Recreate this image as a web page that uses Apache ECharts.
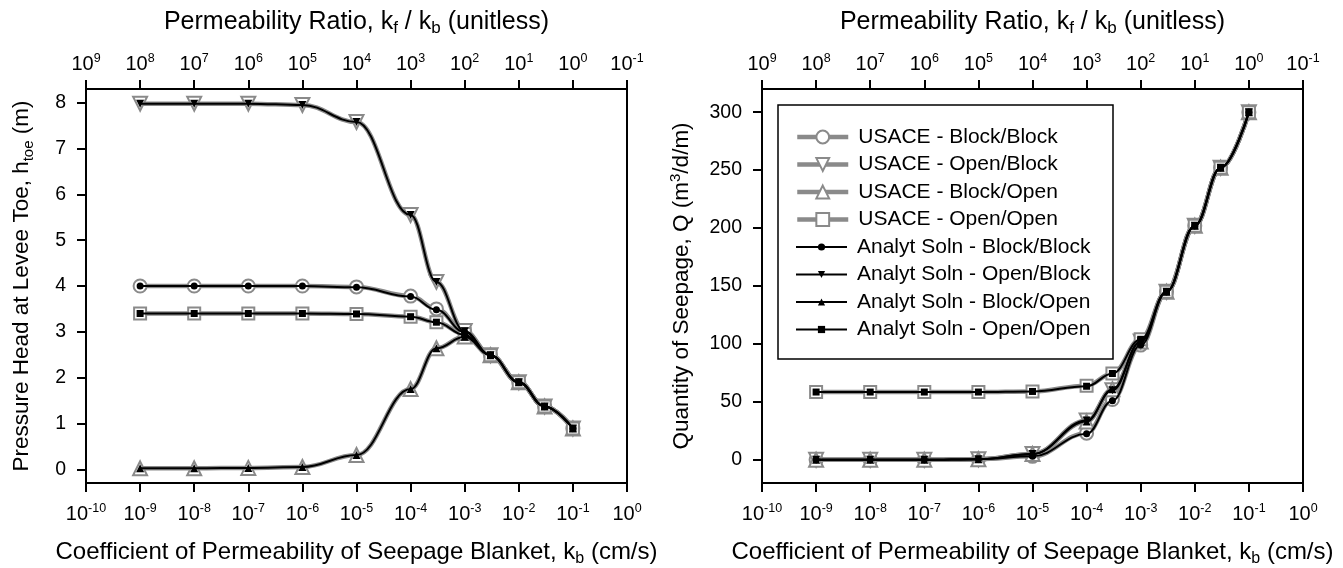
<!DOCTYPE html>
<html>
<head>
<meta charset="utf-8">
<script src="https://cdn.jsdelivr.net/npm/echarts@6/dist/echarts.min.js"></script>
<style>
html,body{margin:0;padding:0;background:#fff;}
#chart{width:1343px;height:568px;}
</style>
</head>
<body>
<div id="chart"></div>
<script>
// ---- data ----
const kb = [1e-9, 1e-8, 1e-7, 1e-6, 1e-5, 1e-4, 3e-4, 1e-3, 3e-3, 1e-2, 3e-2, 1e-1];
const seriesNames = [
  'USACE - Block/Block', 'USACE - Open/Block', 'USACE - Block/Open', 'USACE - Open/Open',
  'Analyt Soln - Block/Block', 'Analyt Soln - Open/Block', 'Analyt Soln - Block/Open', 'Analyt Soln - Open/Open'
];
// Pressure head at levee toe (m)
const headUsaceBB = [4.00, 4.00, 4.00, 4.00, 3.98, 3.78, 3.50, 3.00, 2.49, 1.90, 1.37, 0.89];
const headUsaceOB = [7.98, 7.98, 7.98, 7.95, 7.58, 5.55, 4.09, 3.02, 2.49, 1.90, 1.37, 0.89];
const headUsaceBO = [0.02, 0.02, 0.03, 0.05, 0.31, 1.75, 2.64, 2.90, 2.49, 1.90, 1.37, 0.89];
const headUsaceOO = [3.40, 3.40, 3.40, 3.40, 3.39, 3.33, 3.21, 2.95, 2.49, 1.90, 1.37, 0.89];
const headAnBB = [4.00, 4.00, 4.00, 4.00, 3.97, 3.77, 3.48, 2.99, 2.49, 1.90, 1.37, 0.89];
const headAnOB = [7.98, 7.98, 7.98, 7.95, 7.58, 5.55, 4.09, 3.01, 2.49, 1.90, 1.37, 0.89];
const headAnBO = [0.02, 0.02, 0.03, 0.05, 0.31, 1.75, 2.64, 2.89, 2.49, 1.90, 1.37, 0.89];
const headAnOO = [3.40, 3.40, 3.40, 3.40, 3.39, 3.33, 3.21, 2.93, 2.49, 1.90, 1.37, 0.89];
// Quantity of seepage (m3/d/m)
const qUsaceBB = [0, 0, 0, 0.5, 3, 23, 52, 99, 145, 202, 252, 300];
const qUsaceOB = [0, 0, 0, 0.5, 5, 34, 60, 102, 145, 202, 252, 300];
const qUsaceBO = [0, 0, 0, 0.5, 5, 33, 61, 102, 145, 202, 252, 300];
const qUsaceOO = [58.5, 58.5, 58.5, 58.5, 59, 64, 74.5, 104, 145, 202, 252, 300];
const qAnBB = [0, 0, 0, 0.5, 3, 22.5, 51, 99, 145, 202, 252, 300];
const qAnOB = [0, 0, 0, 0.5, 5, 34, 60, 102, 145, 202, 252, 300];
const qAnBO = [0, 0, 0, 0.5, 5, 33, 61, 102, 145, 202, 252, 300];
const qAnOO = [58.5, 58.5, 58.5, 58.5, 59, 63.5, 74.5, 104, 145, 202, 252, 300];
// tick labels (decade exponents and linear ticks)
const kbExpRange = [-10, 0];      // bottom axis: 10^-10 .. 10^0 cm/s
const ratioExpRange = [-1, 9];    // top axis: k_f/k_b 10^-1 .. 10^9
const headTicks = [0, 1, 2, 3, 4, 5, 6, 7, 8];
const qTicks = [0, 50, 100, 150, 200, 250, 300];

// ---- chart ----
const FONT = 'Liberation Sans';
const GRAY = '#8a8a8a';
const chart = echarts.init(document.getElementById('chart'));

function powRich() {
  return {
    big: {fontSize: 20, lineHeight: 24, verticalAlign: 'middle', fontFamily: FONT, color: '#000'},
    s: {fontSize: 12.5, lineHeight: 19, verticalAlign: 'top', fontFamily: FONT, color: '#000'}
  };
}
function powLabel(v) {
  return '{big|10}{s|' + Math.round(v) + '}';
}
function titleRich(fs) {
  return {
    n: {fontSize: fs, lineHeight: fs + 5, verticalAlign: 'middle', fontFamily: FONT, color: '#000'},
    sub: {fontSize: Math.round(fs * 0.66), lineHeight: Math.round(fs * 0.66), verticalAlign: 'bottom', fontFamily: FONT, color: '#000'},
    sup: {fontSize: Math.round(fs * 0.66), lineHeight: Math.round(fs * 0.66), verticalAlign: 'top', fontFamily: FONT, color: '#000'}
  };
}
function axLine() { return {show: true, onZero: false, lineStyle: {color: '#000', width: 2}}; }

// x axes are drawn in decade (log10) space of k_b
function xBottom(grid) {
  return {
    type: 'value', gridIndex: grid, position: 'bottom',
    min: kbExpRange[0], max: kbExpRange[1], interval: 1,
    axisLine: axLine(),
    axisTick: {show: true, inside: false, length: 9, lineStyle: {color: '#000', width: 2}},
    splitLine: {show: false},
    axisLabel: {margin: 19, fontSize: 20, color: '#000', formatter: powLabel, rich: powRich()}
  };
}
function xTop(grid) {
  return {
    type: 'value', gridIndex: grid, position: 'top', inverse: true,
    min: ratioExpRange[0], max: ratioExpRange[1], interval: 1,
    axisLine: axLine(),
    axisTick: {show: true, inside: false, length: 9, lineStyle: {color: '#000', width: 2}},
    splitLine: {show: false},
    axisLabel: {margin: 13, fontSize: 20, color: '#000', formatter: powLabel, rich: powRich()}
  };
}
function yAxis(grid, min, max, ticks, name, gap) {
  return {
    type: 'value', gridIndex: grid, min: min, max: max,
    name: name, nameLocation: 'middle', nameGap: gap, nameRotate: 90,
    nameTextStyle: {fontSize: 22.5, fontFamily: FONT, rich: titleRich(22.5)},
    axisLine: axLine(),
    axisTick: {show: true, inside: false, length: 9, lineStyle: {color: '#000', width: 2}, customValues: ticks},
    splitLine: {show: false},
    axisLabel: {margin: 20, fontSize: 19.5, fontFamily: FONT, color: '#000', customValues: ticks}
  };
}

const usaceSym = [
  {symbol: 'circle', size: 13, rot: 0},
  {symbol: 'triangle', size: 14, rot: 180},
  {symbol: 'triangle', size: 14, rot: 0},
  {symbol: 'rect', size: 12, rot: 0}
];
const anSym = [
  {symbol: 'circle', size: 7, rot: 0},
  {symbol: 'triangle', size: 8, rot: 180},
  {symbol: 'triangle', size: 8, rot: 0},
  {symbol: 'rect', size: 7, rot: 0}
];
function pts(xs, ys) { return xs.map((x, i) => [Math.log10(x), ys[i]]); }
function usace(i, xIdx, yIdx, ys) {
  const s = usaceSym[i];
  return {
    name: seriesNames[i], type: 'line', xAxisIndex: xIdx, yAxisIndex: yIdx,
    data: pts(kb, ys), smooth: 0.4, smoothMonotone: 'x',
    symbol: s.symbol, symbolSize: s.size, symbolRotate: s.rot,
    lineStyle: {color: GRAY, width: 4.5},
    itemStyle: {color: '#fff', borderColor: GRAY, borderWidth: 2},
    emphasis: {disabled: true}, z: 2
  };
}
function analyt(i, xIdx, yIdx, ys) {
  const s = anSym[i];
  return {
    name: seriesNames[4 + i], type: 'line', xAxisIndex: xIdx, yAxisIndex: yIdx,
    data: pts(kb, ys), smooth: 0.4, smoothMonotone: 'x',
    symbol: s.symbol, symbolSize: s.size, symbolRotate: s.rot,
    lineStyle: {color: '#000', width: 2},
    itemStyle: {color: '#000', borderWidth: 0},
    emphasis: {disabled: true}, z: 3
  };
}

function legendText() { return {fontSize: 21, lineHeight: 24, fontFamily: FONT, color: '#000', padding: [0, 0, 0, 5]}; }

function titleText(x, y, text, fs) {
  return {
    type: 'text', x: x, y: y, z: 5, silent: true,
    style: {text: text, align: 'center', verticalAlign: 'middle', fontSize: fs, fontFamily: FONT, fill: '#000', rich: titleRich(fs)}
  };
}
const bottomTitle = '{n|Coefficient of Permeability of Seepage Blanket, k}{sub|b}{n| (cm/s)}';
const topTitle = '{n|Permeability Ratio, k}{sub|f}{n| / k}{sub|b}{n| (unitless)}';

const option = {
  animation: false,
  backgroundColor: '#fff',
  grid: [
    {left: 86, right: 716, top: 89, bottom: 85, show: true, borderColor: '#000', borderWidth: 2, backgroundColor: 'transparent'},
    {left: 762, right: 40, top: 89, bottom: 85, show: true, borderColor: '#000', borderWidth: 2, backgroundColor: 'transparent'}
  ],
  xAxis: [xBottom(0), xTop(0), xBottom(1), xTop(1)],
  yAxis: [
    yAxis(0, -0.3, 8.3, headTicks, '{n|Pressure Head at Levee Toe, h}{sub|toe}{n| (m)}', 50),
    yAxis(1, -20, 320, qTicks, '{n|Quantity of Seepage, Q (m}{sup|3}{n|/d/m)}', 66)
  ],
  legend: [
    {
      data: seriesNames.slice(0, 4), orient: 'vertical', left: 795, top: 125, padding: 0,
      itemWidth: 51, itemHeight: 16, itemGap: 3.5, selectedMode: false,
      lineStyle: {width: 4.5, color: GRAY},
      textStyle: legendText()
    },
    {
      data: seriesNames.slice(4), orient: 'vertical', left: 795, top: 235, padding: 0,
      itemWidth: 51, itemHeight: 9, itemGap: 3.5, selectedMode: false,
      lineStyle: {width: 2, color: '#000'},
      textStyle: legendText()
    }
  ],
  graphic: [
    {type: 'rect', z: 3, shape: {x: 778, y: 105, width: 335, height: 254},
     style: {fill: '#fff', stroke: '#000', lineWidth: 1.5}},
    titleText(356.5, 22, topTitle, 25),
    titleText(1032.5, 22, topTitle, 25),
    titleText(356.5, 552, bottomTitle, 24),
    titleText(1032.5, 552, bottomTitle, 24)
  ],
  series: [
    usace(0, 0, 0, headUsaceBB), usace(1, 0, 0, headUsaceOB), usace(2, 0, 0, headUsaceBO), usace(3, 0, 0, headUsaceOO),
    analyt(0, 0, 0, headAnBB), analyt(1, 0, 0, headAnOB), analyt(2, 0, 0, headAnBO), analyt(3, 0, 0, headAnOO),
    usace(0, 2, 1, qUsaceBB), usace(1, 2, 1, qUsaceOB), usace(2, 2, 1, qUsaceBO), usace(3, 2, 1, qUsaceOO),
    analyt(0, 2, 1, qAnBB), analyt(1, 2, 1, qAnOB), analyt(2, 2, 1, qAnBO), analyt(3, 2, 1, qAnOO)
  ]
};
chart.setOption(option);
</script>
</body>
</html>
